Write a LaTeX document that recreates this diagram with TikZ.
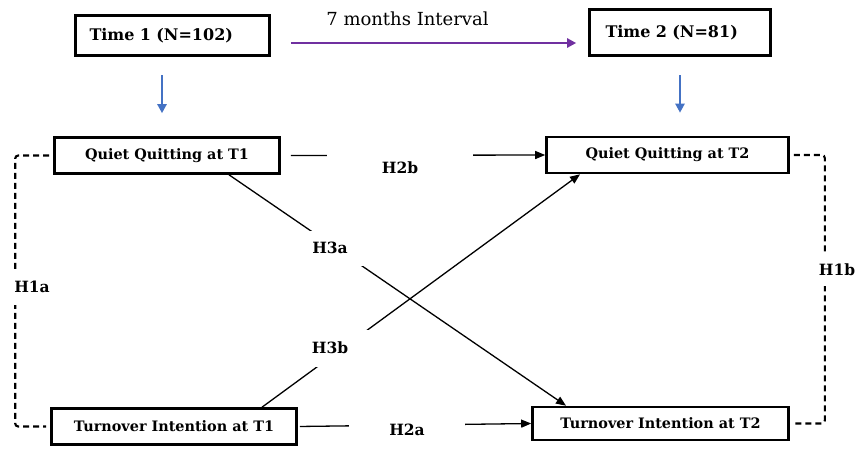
\documentclass[tikz,border=0pt]{standalone}
\usepackage{fontspec}
\setmainfont{DejaVu Serif}
\usetikzlibrary{arrows.meta,positioning,calc}
\definecolor{downblue}{RGB}{68,114,196}
\definecolor{gapviolet}{RGB}{112,48,160}
\tikzset{
  timebox/.style={draw,line width=2.6pt,align=left,font=\fontsize{16}{19}\selectfont\bfseries},
  varbox/.style={draw,line width=2.6pt,minimum height=36pt,font=\fontsize{14.4}{17}\selectfont\bfseries},
  hyp/.style={fill=white,font=\fontsize{15.5}{18}\selectfont\bfseries},
  link/.style={line width=1.3pt,-{Triangle[length=10pt,width=8pt]}},
  corr/.style={line width=2.1pt,dash pattern=on 6pt off 4pt,rounded corners=3pt,shorten <=4pt,shorten >=4pt},
  downarr/.style={downblue,line width=2.6pt,-{Triangle[length=9pt,width=9pt]}},
}

\begin{document}
\begin{tikzpicture}[x=1pt,y=-1pt]
  \useasboundingbox (0,0) rectangle (856,448);
  \node[timebox,text width=166pt,inner xsep=14pt,minimum height=40.5pt] (t1) at (172.5,35.5) {Time 1 (N=102)};
  \node[timebox,text width=149pt,inner xsep=16pt,minimum height=46.5pt] (t2) at (680,32.5) {Time 2 (N=81)};
  \coordinate (iv) at ([yshift=-7.5pt]t1.east);
  \draw[gapviolet,line width=2.8pt,-{Triangle[length=9pt,width=9pt]},shorten <=20pt,shorten >=12pt] (iv) -- (iv -| t2.west);
  \node[font=\fontsize{18}{21}\selectfont] (ivlab) at (407.5,19) {7 months Interval};
  \node[varbox,minimum width=225pt] (qq1) at (167,155.5) {Quiet Quitting at T1};
  \node[varbox,minimum width=242pt] (qq2) at (667.5,155) {Quiet Quitting at T2};
  \node[varbox,minimum width=245pt] (ti1) at (174,426.5) {Turnover Intention at T1};
  \node[varbox,minimum width=256pt,minimum height=33pt] (ti2) at (660.5,423.5) {Turnover Intention at T2};
  \draw[downarr,shorten <=18pt,shorten >=23pt] ([xshift=-10.5pt]t1.south) -- ([xshift=-10.5pt]t1.south |- qq1.north);
  \draw[downarr,shorten <=18pt,shorten >=23pt] (t2.south) -- (t2.south |- qq2.north);
  \draw[corr] (qq1.west) -- ++(-38pt,0) |- (ti1.west);
  \draw[corr] (qq2.east) -- ++(35pt,0) |- (ti2.east);
  \draw[link,shorten <=10pt] (qq1.east) -- (qq2.west);
  \draw[link,shorten <=2pt] (ti1.east) -- (ti2.west);
  \draw[link] ([xshift=62pt]qq1.south) -- ([xshift=-94.5pt]ti2.north);
  \draw[link] ([xshift=88pt]ti1.north) -- ([xshift=-87.5pt]qq2.south);
  \node[hyp,inner xsep=55pt,minimum height=35pt] (h2b) at (400,168) {H2b};
  \node[hyp,inner xsep=40pt,minimum height=38pt] (h2a) at (407,430) {H2a};
  \node[hyp,minimum width=90pt,minimum height=35pt] (h3a) at (330,248) {H3a};
  \node[hyp,minimum width=100pt,minimum height=37pt] (h3b) at (330,348) {H3b};
  \node[hyp,inner ysep=12pt] (h1a) at (32,287) {H1a};
  \node[hyp,inner ysep=10pt] (h1b) at (837,270) {H1b};
\end{tikzpicture}
\end{document}
